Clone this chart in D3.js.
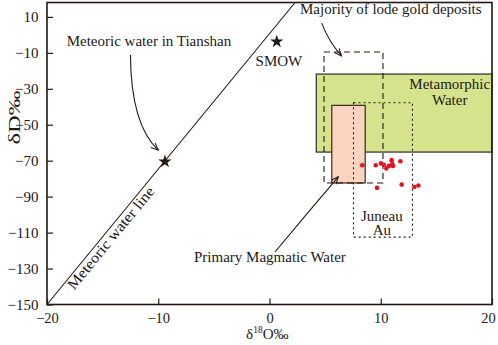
<!DOCTYPE html>
<html>
<head>
<meta charset="utf-8">
<script src="https://cdn.jsdelivr.net/npm/d3@7"></script>
<style>
  body { margin: 0; background: #fff; }
  text { font-family: "Liberation Serif", "Times New Roman", serif; fill: #231815; }
</style>
</head>
<body>
<div id="chart"></div>
<script>
// tick labels
const xTicks = [-20, -10, 0, 10, 20];
const yTicks = [10, -10, -30, -50, -70, -90, -110, -130, -150];

// meteoric water line (δD vs δ18O), ends as drawn
const mwlLine = [[-20, -150], [2.3, 18]];

// stars: SMOW and Tianshan meteoric water
const starNames = ["SMOW", "Meteoric water in Tianshan"];
const starO = [0.65, -9.4];
const starD = [-3.8, -70.5];

// fields: [x0, x1, y0, y1]
const metamorphic = [4.2, 20, -65.2, -21.8];
const magmatic = [5.6, 8.6, -82.4, -39.2];
const lodeGold = [4.9, 10.2, -82.4, -9.5];
const juneau = [7.55, 12.85, -112.5, -37.8];

// samples (red dots)
const sampleO = [8.34, 9.55, 10.02, 10.27, 10.5, 10.74, 10.98, 11.04, 11.1, 11.76, 9.66, 11.88, 13.02, 13.38];
const sampleD = [-72.5, -72.5, -71.5, -72.3, -74.3, -72.9, -69.7, -71.8, -72.9, -70.3, -85.1, -83.3, -84.6, -83.8];

const margin = { top: 2.5, right: 6, bottom: 41, left: 47 },
    width = 498 - margin.left - margin.right,
    height = 345.5 - margin.top - margin.bottom;

const ink = "#231815";

const svg = d3.select("#chart")
    .append("svg")
    .attr("width", 498)
    .attr("height", 345)
    .append("g")
    .attr("transform", `translate(${margin.left},${margin.top})`);

const x = d3.scaleLinear().domain([-20, 20]).range([0, width]);
const y = d3.scaleLinear().domain([-150, 18]).range([height, 0]);

// arrow head
svg.append("defs").append("marker")
    .attr("id", "arrow")
    .attr("viewBox", "0 0 10 10")
    .attr("refX", 9).attr("refY", 5)
    .attr("markerWidth", 9).attr("markerHeight", 9)
    .attr("markerUnits", "userSpaceOnUse")
    .attr("orient", "auto")
    .append("path")
    .attr("d", "M1,1.5 L9,5 L1,8.5")
    .attr("fill", "none")
    .attr("stroke", ink)
    .attr("stroke-width", 1.2);

// fields
function field(box, fill, dash) {
    svg.append("rect")
        .attr("x", x(box[0]))
        .attr("y", y(box[3]))
        .attr("width", x(box[1]) - x(box[0]))
        .attr("height", y(box[2]) - y(box[3]))
        .attr("fill", fill)
        .attr("stroke", ink)
        .attr("stroke-width", 1.1)
        .attr("stroke-dasharray", dash);
}
field(metamorphic, "#d5e48c", null);
field(magmatic, "#fbd4bf", null);
field(lodeGold, "none", "6,4");
field(juneau, "none", "2,3");

// meteoric water line
svg.append("line")
    .attr("x1", x(mwlLine[0][0])).attr("y1", y(mwlLine[0][1]))
    .attr("x2", x(mwlLine[1][0])).attr("y2", y(mwlLine[1][1]))
    .attr("stroke", ink)
    .attr("stroke-width", 1.1);

// label along the line
const p0 = [x(mwlLine[0][0]), y(mwlLine[0][1])],
    p1 = [x(mwlLine[1][0]), y(mwlLine[1][1])];
const len = Math.hypot(p1[0] - p0[0], p1[1] - p0[1]);
const ux = (p1[0] - p0[0]) / len, uy = (p1[1] - p0[1]) / len;
const ang = Math.atan2(uy, ux) * 180 / Math.PI;
const lx = p0[0] + ux * 28 - uy * 12,
    ly = p0[1] + uy * 28 + ux * 12;
svg.append("text")
    .attr("transform", `translate(${lx},${ly}) rotate(${ang})`)
    .attr("font-size", 15)
    .attr("textLength", 128)
    .attr("lengthAdjust", "spacingAndGlyphs")
    .text("Meteoric water line");

// stars
svg.selectAll(".star")
    .data(starNames)
    .join("path")
    .attr("class", "star")
    .attr("transform", (d, i) => `translate(${x(starO[i])},${y(starD[i])})`)
    .attr("d", d3.symbol(d3.symbolStar, 55))
    .attr("fill", ink);

// samples
svg.selectAll(".dot")
    .data(sampleO)
    .join("circle")
    .attr("class", "dot")
    .attr("cx", d => x(d))
    .attr("cy", (d, i) => y(sampleD[i]))
    .attr("r", 2.3)
    .attr("fill", "#e8141c");

// annotation arrows (data units)
const arrows = [
    [[-12.5, -11.2], [-12.45, -50], [-10.0, -64.1]],
    [[4.69, 6.5], [5.3, -3.5], [6.47, -11.7]],
    [[0.49, -120.8], [3.3, -99.9], [6.18, -79.0]]
];
arrows.forEach(a => {
    const path = d3.path();
    path.moveTo(x(a[0][0]), y(a[0][1]));
    path.quadraticCurveTo(x(a[1][0]), y(a[1][1]), x(a[2][0]), y(a[2][1]));
    svg.append("path")
        .attr("d", path.toString())
        .attr("fill", "none")
        .attr("stroke", ink)
        .attr("stroke-width", 1.1)
        .attr("marker-end", "url(#arrow)");
});

// annotation texts (data units)
const notes = [
    { t: "Meteoric water in Tianshan", x: -18.23, y: -6.4, a: "start" },
    { t: "SMOW", x: 0.85, y: -17.3, a: "middle" },
    { t: "Majority of lode gold deposits", x: 2.74, y: 11.4, a: "start" },
    { t: "Metamorphic", x: 16.2, y: -30.1, a: "middle" },
    { t: "Water", x: 16.2, y: -38.9, a: "middle" },
    { t: "Juneau", x: 10.1, y: -103.4, a: "middle" },
    { t: "Au", x: 10.1, y: -111.5, a: "middle" },
    { t: "Primary Magmatic Water", x: 0.04, y: -126.6, a: "middle" }
];
svg.selectAll(".note")
    .data(notes)
    .join("text")
    .attr("class", "note")
    .attr("x", d => x(d.x))
    .attr("y", d => y(d.y))
    .attr("font-size", 15)
    .style("text-anchor", d => d.a)
    .text(d => d.t);

// axes with inward ticks
const xAxis = svg.append("g")
    .attr("transform", `translate(0,${height})`)
    .call(d3.axisBottom(x).tickValues(xTicks).tickSizeInner(-6).tickSizeOuter(0).tickPadding(8));
const yAxis = svg.append("g")
    .call(d3.axisLeft(y).tickValues(yTicks).tickSizeInner(-6).tickSizeOuter(0).tickPadding(8.5));
[xAxis, yAxis].forEach(g => {
    g.select(".domain").remove();
    g.selectAll("line").attr("stroke", ink).attr("stroke-width", 1.2);
    g.selectAll("text")
        .attr("font-family", "Liberation Serif")
        .attr("font-size", 15)
        .attr("fill", ink);
});
xAxis.selectAll("text").attr("font-size", 14.5);
// keep the last x label inside the picture, as in the source
xAxis.selectAll("text").filter(d => d === 20).attr("dx", -4);

// frame
svg.append("rect")
    .attr("width", width)
    .attr("height", height)
    .attr("fill", "none")
    .attr("stroke", ink)
    .attr("stroke-width", 1.6);

// axis titles
const xt = svg.append("text")
    .attr("x", x(-0.2))
    .attr("y", height + 34)
    .attr("font-size", 15)
    .style("text-anchor", "middle");
xt.append("tspan").text("δ");
xt.append("tspan").attr("font-size", 9.5).attr("dy", -5.5).text("18");
xt.append("tspan").attr("dy", 5.5).text("O‰");

svg.append("text")
    .attr("transform", `translate(${-33},${y(-46)}) rotate(-90)`)
    .attr("dy", "0.35em")
    .attr("font-size", 17)
    .attr("textLength", 54)
    .attr("lengthAdjust", "spacingAndGlyphs")
    .style("text-anchor", "middle")
    .text("δD‰");
</script>
</body>
</html>
